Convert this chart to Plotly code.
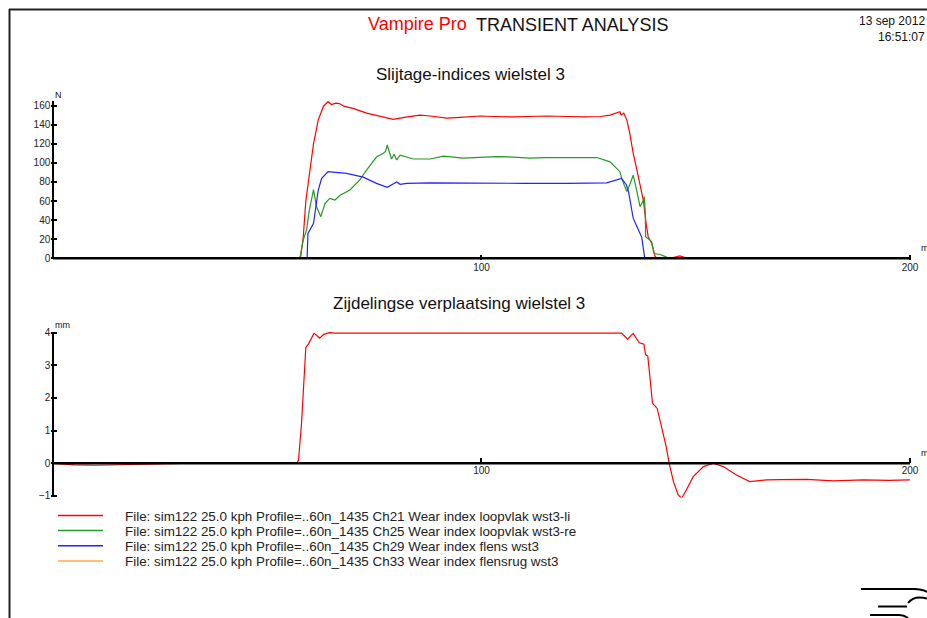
import plotly.graph_objects as go

# ---------------- data ----------------
ch21_x = [0, 57.5, 57.8, 58.4, 59.0, 59.6, 60.8, 61.9, 63.1, 64.2, 65.0, 66.0, 66.8, 68, 70, 73.2, 76,
          79.4, 82, 85.6, 88, 91.9, 95, 99.7, 103, 107.5, 111, 115.3, 120, 124, 127.7, 130, 132.3,
          132.6, 133.2, 133.9, 134.6, 135.4, 136.2, 137.0, 137.8, 138.4, 138.9, 139.7, 140.5, 141,
          144, 146.3, 148, 200]
ch21_y = [0, 0, 2, 22, 60, 80, 120, 145, 159, 164, 161, 162.5, 162, 159, 157, 152, 149,
          145.5, 147.5, 150, 149, 146.8, 147.5, 149, 148.5, 148, 148.5, 149, 148.5, 148, 148.5, 150, 153.5,
          150, 152, 145, 131, 110, 94, 78.5, 60, 37, 22.6, 16, 2, 0,
          0, 2.5, 0, 0]

ch25_x = [0, 57.6, 58.4, 59.2, 59.8, 60.8, 61.5, 62.5, 63.5, 64.6, 65.8, 67, 69.3, 71.6, 73.2, 75.5,
          77.1, 77.6, 78.0, 78.5, 79.0, 79.6, 80.2, 81.0, 82.6, 84.1, 88, 91.1, 95.7, 99.7, 103.5, 107.5,
          111.3, 115, 119, 123, 126.9, 130, 132.3, 132.7, 133.9, 134.6, 135.4, 136.2, 137.0, 137.8,
          138.0, 138.2, 138.3, 139.3, 139.7, 140.1, 140.3, 141.7, 143.3, 145, 200]
ch25_y = [0, 0, 19, 30, 50, 72, 54, 43.6, 57.6, 62.8, 61, 66, 71.5, 82, 92.5, 106,
          110, 112, 118.6, 112, 104, 109, 103, 108, 106, 104, 104, 107, 105, 106, 106.5, 106,
          105, 105.5, 105.5, 105.5, 105.5, 101, 90.7, 83.7, 70, 77, 87, 71.5, 54, 61,
          64.5, 50, 22.6, 19, 17.5, 8.7, 5, 4, 1, 0, 0]

ch29_x = [0, 59.3, 59.5, 60.8, 61.9, 62.7, 64.2, 68.5, 72.4, 75.5, 78, 79, 80.2, 81, 82.6, 88,
          99.7, 110, 120, 129.2, 132.7, 133.8, 134.3, 134.8, 135.4, 136.6, 137.4, 138.1, 200]
ch29_y = [0, 0, 26, 36.6, 71.5, 83.7, 90.7, 89, 85, 78.5, 74.3, 77, 80, 77.5, 78.5, 79,
          78.5, 78.5, 78.5, 79, 83.7, 77, 70, 55, 42, 30, 22, 0, 0]

ch33_x = [0, 200]
ch33_y = [0, 0]

lat_x = [0, 2, 5, 10, 15, 20, 25, 30, 56.9, 57.3, 58.0, 58.6, 59.0, 59.6, 60.0, 60.9, 61.5, 62.2,
         63.2, 64.5, 66, 70, 80, 90, 100, 110, 120, 132.7, 134.1, 135.4, 136.8, 137.9, 138.3, 138.8,
         139.3, 139.9, 141.0, 142.0, 143.1, 143.8, 144.8, 145.9, 146.7, 147.8, 149.4, 151.8, 154.1,
         156.4, 159.5, 162.6, 166.5, 170, 175.9, 182.1, 189.1, 195, 200]
lat_y = [0, -0.02, -0.05, -0.06, -0.05, -0.03, -0.01, 0, 0, 0.1, 1.22, 2.45, 3.55, 3.65, 3.75, 3.98, 3.92, 3.83,
         3.95, 4.0, 3.99, 3.99, 3.99, 3.99, 3.99, 3.99, 3.99, 3.99, 3.80, 3.98, 3.69, 3.65, 3.32, 3.29,
         2.65, 1.84, 1.68, 1.12, 0.51, 0.0, -0.56, -0.97, -1.07, -0.82, -0.41, -0.10, 0.0,
         -0.1, -0.36, -0.56, -0.51, -0.50, -0.49, -0.54, -0.51, -0.52, -0.51]

legend_labels = [
    "File: sim122 25.0 kph Profile=..60n_1435 Ch21 Wear index loopvlak wst3-li",
    "File: sim122 25.0 kph Profile=..60n_1435 Ch25 Wear index loopvlak wst3-re",
    "File: sim122 25.0 kph Profile=..60n_1435 Ch29 Wear index flens wst3",
    "File: sim122 25.0 kph Profile=..60n_1435 Ch33 Wear index flensrug wst3",
]
series_colors = ["#ff0000", "#259a25", "#2222ff", "#ffaa44"]

top_yticks = [0, 20, 40, 60, 80, 100, 120, 140, 160]
bot_yticks = [-1, 0, 1, 2, 3, 4]
x_ticks = [100, 200]

# ---------------- layout helpers ----------------
W, H = 927, 618
FONT = "Liberation Sans, Arial, sans-serif"


def fx(p):
    return p / W


def fy(p):
    return 1 - p / H


XR = [-0.4, 200.4]
xdom = [fx(53 - 0.4 * 4.285), fx(910 + 0.4 * 4.285)]
YR1 = [-1.8, 165]
ydom1 = [fy(258.3 + 1.8 * 0.955), fy(258.3 - 165 * 0.955)]
YR2 = [-1.05, 4.05]
ydom2 = [fy(463.3 + 1.05 * 32.65), fy(463.3 - 4.05 * 32.65)]
zero_pos2 = ydom2[0] + (ydom2[1] - ydom2[0]) * (0 - YR2[0]) / (YR2[1] - YR2[0])

fig = go.Figure()

tops = [(ch21_x, ch21_y), (ch25_x, ch25_y), (ch29_x, ch29_y), (ch33_x, ch33_y)]
for (xs, ys), col, lab in zip(tops, series_colors, legend_labels):
    fig.add_trace(go.Scatter(x=xs, y=ys, mode="lines", line=dict(color=col, width=1.2),
                             name=lab, xaxis="x", yaxis="y", showlegend=False, hoverinfo="skip"))

fig.add_trace(go.Scatter(x=lat_x, y=lat_y, mode="lines", line=dict(color="#ff0000", width=1.2),
                         xaxis="x2", yaxis="y2", showlegend=False, hoverinfo="skip"))

tickfont = dict(family=FONT, size=10, color="#222")
common_x = dict(range=XR, domain=xdom, tickvals=x_ticks, ticktext=[str(v) for v in x_ticks],
                ticks="inside", ticklen=5, tickwidth=2, tickcolor="black", showline=False,
                showgrid=False, zeroline=False, tickfont=tickfont, fixedrange=True, automargin=False)
common_y = dict(ticks="inside", ticklen=6, tickwidth=2, tickcolor="black", showline=False,
                showgrid=False, zeroline=False, tickfont=tickfont, fixedrange=True, automargin=False)

fig.update_layout(
    width=W, height=H, autosize=False,
    margin=dict(l=0, r=0, t=0, b=0, pad=0, autoexpand=False),
    paper_bgcolor="white", plot_bgcolor="white",
    xaxis=dict(anchor="y", **common_x),
    yaxis=dict(anchor="x", domain=ydom1, range=YR1, tickvals=top_yticks, **common_y),
    xaxis2=dict(anchor="free", position=zero_pos2, **common_x),
    yaxis2=dict(anchor="x2", domain=ydom2, range=YR2, tickvals=bot_yticks, **common_y),
    showlegend=False,
)

shapes = []
# axis lines
shapes.append(dict(type="line", xref="x", yref="y", x0=0, x1=200, y0=0, y1=0,
                   line=dict(color="black", width=2.5), layer="above"))
shapes.append(dict(type="line", xref="x", yref="y", x0=0, x1=0, y0=0, y1=165,
                   line=dict(color="black", width=2), layer="above"))
shapes.append(dict(type="line", xref="x2", yref="y2", x0=0, x1=200, y0=0, y1=0,
                   line=dict(color="black", width=2.5), layer="above"))
shapes.append(dict(type="line", xref="x2", yref="y2", x0=0, x1=0, y0=-1, y1=4.02,
                   line=dict(color="black", width=2), layer="above"))
# page frame
shapes.append(dict(type="line", xref="paper", yref="paper", x0=fx(9.5), x1=fx(9.5), y0=0, y1=fy(9),
                   line=dict(color="#222", width=2)))
shapes.append(dict(type="line", xref="paper", yref="paper", x0=fx(9), x1=1, y0=fy(9.5), y1=fy(9.5),
                   line=dict(color="#222", width=2)))
# legend samples
legend_rows = [515.5, 530.5, 545.7, 561]
for row, col in zip(legend_rows, series_colors):
    shapes.append(dict(type="line", xref="paper", yref="paper", x0=fx(58), x1=fx(103), y0=fy(row), y1=fy(row),
                       line=dict(color=col, width=1.5)))


def path(pts):
    s = "M %f,%f" % (fx(pts[0][0]), fy(pts[0][1]))
    for p in pts[1:]:
        s += " L %f,%f" % (fx(p[0]), fy(p[1]))
    return s


def qpath(p0, c, p1):
    return "M %f,%f Q %f,%f %f,%f" % (fx(p0[0]), fy(p0[1]), fx(c[0]), fy(c[1]), fx(p1[0]), fy(p1[1]))


logo = [
    path([(861, 589), (916, 589)]),
    qpath((914, 589), (922, 589), (927, 592)),
    path([(878, 606.5), (907, 606.5)]),
    qpath((908, 603), (914, 595), (927, 598.5)),
    path([(870, 615), (900, 615)]),
    qpath((899, 615), (904, 615), (908, 618)),
]
for p in logo:
    shapes.append(dict(type="path", xref="paper", yref="paper", path=p, line=dict(color="black", width=2)))

fig.update_layout(shapes=shapes)

ann = []


def text(t, x, y, size, color="#111", xanchor="left", yanchor="middle"):
    ann.append(dict(text=t, x=fx(x), y=fy(y), xref="paper", yref="paper", showarrow=False,
                    xanchor=xanchor, yanchor=yanchor, borderpad=0,
                    font=dict(family=FONT, size=size, color=color)))


text("Vampire Pro", 468, 24, 18, color="#ff0000", xanchor="right")
text("TRANSIENT ANALYSIS", 475, 25, 18, xanchor="left")
text("13 sep 2012", 926, 21.5, 12, xanchor="right")
text("16:51:07", 926, 37.5, 12, xanchor="right")
text("Slijtage-indices wielstel 3", 471, 74, 17, xanchor="center")
text("Zijdelingse verplaatsing wielstel 3", 459, 304, 17, xanchor="center")
text("N", 54, 95, 9)
text("mm", 54, 325, 9)
text("m", 920, 248, 9)
text("m", 920, 453, 9)
for row, lab in zip(legend_rows, legend_labels):
    text(lab, 124, row + 0.5, 13.4, color="#222")

fig.update_layout(annotations=ann)

fig.write_html("out.html", config={"displayModeBar": False, "staticPlot": True, "responsive": False},
               post_script="document.documentElement.style.margin='0';document.body.style.margin='0';")
